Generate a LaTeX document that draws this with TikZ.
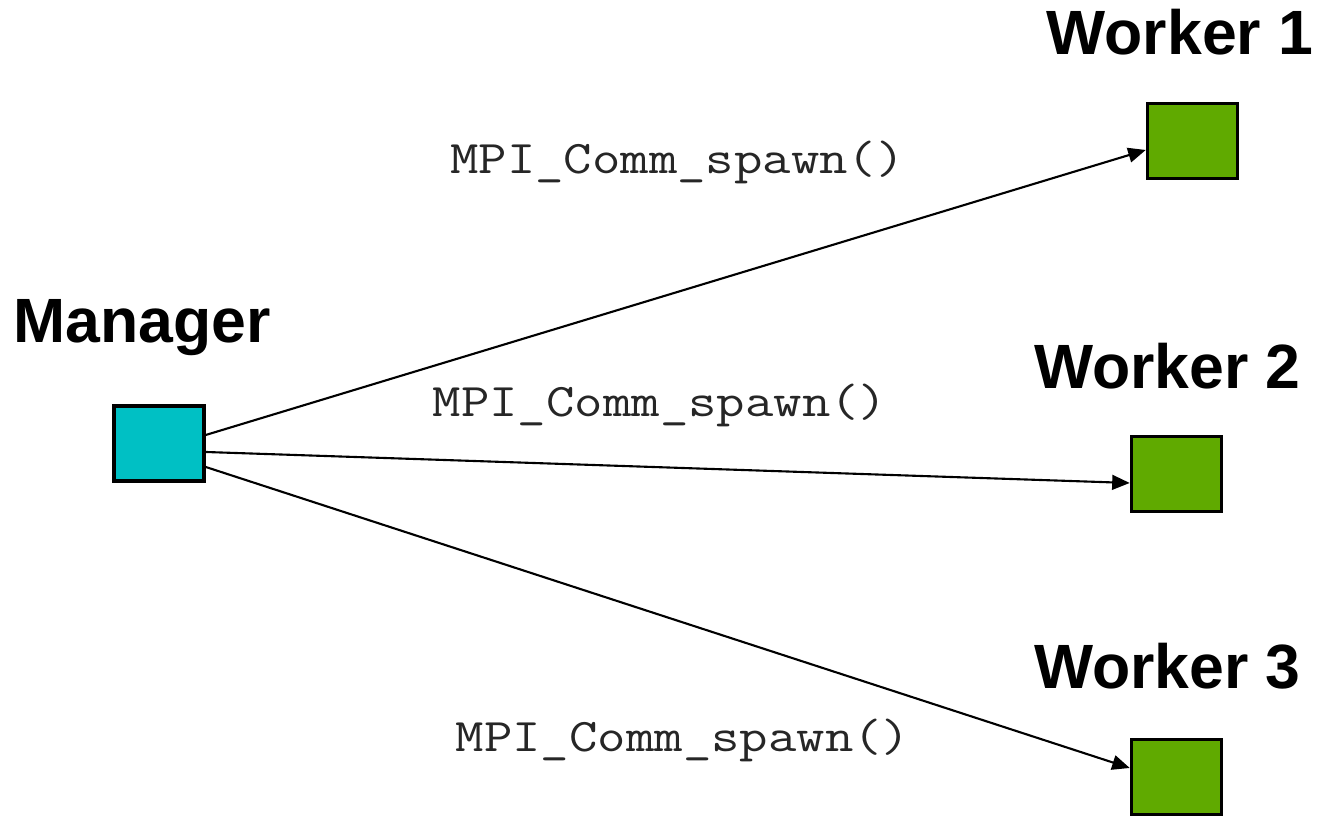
\documentclass[tikz,border=0pt]{standalone}
\usepackage{fontspec}
\setmainfont{Liberation Sans}
\newfontfamily\callfont[FakeStretch=1.18]{Latin Modern Mono}
\usepackage{tikz}
\usetikzlibrary{arrows.meta,positioning,calc}

\definecolor{mgrcyan}{RGB}{0,192,196}
\definecolor{wkrgreen}{RGB}{96,170,0}

\tikzset{
  proc/.style={draw, line width=1pt, minimum width=0.9cm, minimum height=0.75cm, inner sep=0pt},
  title/.style={font=\fontsize{17.8}{20}\selectfont\bfseries, anchor=base},
  call/.style={font=\fontsize{13.3}{15}\selectfont\callfont, anchor=base, text=black!85},
  spawn/.style={-{Triangle[length=5pt,width=4.2pt]}, line width=0.6pt}
}

\begin{document}
\begin{tikzpicture}
  \useasboundingbox (0,0) rectangle (13.17,8.18);

  % processes
  \node[proc, fill=mgrcyan] (manager) at (1.59, 3.745) {};
  \node[proc, fill=wkrgreen] (worker1) at (11.925, 6.77) {};
  \node[proc, fill=wkrgreen] (worker2) at (11.765, 3.44) {};
  \node[proc, fill=wkrgreen] (worker3) at (11.765, 0.41) {};

  % titles
  \node[title] (mgrlabel) at (1.425, 4.75) {Manager};
  \node[title] (w1label) at (11.80, 7.63) {Worker 1};
  \node[title] (w2label) at (11.675, 4.29) {Worker 2};
  \node[title] (w3label) at (11.675, 1.29) {Worker 3};

  % spawn calls
  \draw[spawn] ([yshift=0.085cm]manager.east) -- ([yshift=-0.09cm]worker1.west);
  \draw[spawn] ([yshift=-0.085cm]manager.east) -- ([yshift=-0.09cm]worker2.west);
  \draw[spawn] ([yshift=-0.235cm]manager.east) -- ([yshift=0.09cm]worker3.west);

  \node[call] (call1) at (6.775, 6.44) {MPI\_Comm\_spawn()};
  \node[call] (call2) at (6.60, 4.01) {MPI\_Comm\_spawn()};
  \node[call] (call3) at (6.83, 0.66) {MPI\_Comm\_spawn()};
\end{tikzpicture}
\end{document}
